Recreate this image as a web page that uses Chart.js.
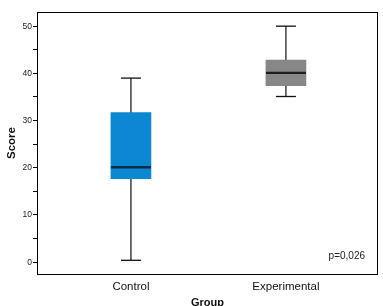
<!DOCTYPE html>
<html>
<head>
<meta charset="utf-8">
<script src="https://cdn.jsdelivr.net/npm/chart.js@4"></script>
<style>
  html, body { margin: 0; padding: 0; background: #fff; }
  #wrap { width: 383px; height: 306px; }
</style>
</head>
<body>
<div id="wrap"><canvas id="boxChart" width="383" height="306"></canvas></div>
<script>
// group labels and box stats
const groups = ['Control', 'Experimental'];
const mins = [0.4, 35.1];
const q1s = [17.7, 37.4];
const medians = [20.1, 40.1];
const q3s = [31.7, 42.8];
const maxs = [39, 50];
const boxColors = ['#0b88d1', '#878787'];
const medianColors = ['#0c2d47', '#1e1e1e'];
const yTicks = [0, 5, 10, 15, 20, 25, 30, 35, 40, 45, 50];
const pText = 'p=0,026';

// x positions for the groups (1, 2)
const xs = groups.map((g, i) => i + 1);

var whiskerData = [];
var capData = [];
xs.forEach((x, i) => {
    whiskerData.push({x: x, y: mins[i]}, {x: x, y: maxs[i]}, {x: x + 0.5, y: null});
    capData.push({x: x, y: mins[i]}, {x: x, y: maxs[i]});
});

// frame round the plot + p value
const framePlugin = {
    id: 'frame',
    afterDraw(chart) {
        const {ctx, chartArea} = chart;
        ctx.save();
        ctx.strokeStyle = '#000';
        ctx.lineWidth = 1;
        ctx.strokeRect(chartArea.left + 0.5, chartArea.top + 0.5,
            chartArea.right - chartArea.left - 1, chartArea.bottom - chartArea.top);
        ctx.fillStyle = '#222';
        ctx.font = '10px "Liberation Sans", Arial, sans-serif';
        ctx.textAlign = 'right';
        ctx.textBaseline = 'middle';
        ctx.fillText(pText, chartArea.right - 13, chartArea.bottom - 18);
        ctx.restore();
    }
};

var ctx = document.getElementById('boxChart').getContext('2d');
var boxChart = new Chart(ctx, {
    type: 'bar',
    data: {
        datasets: [
            {
                type: 'line',
                label: 'whisker',
                data: whiskerData,
                borderColor: '#111',
                borderWidth: 1.2,
                pointRadius: 0,
                spanGaps: false,
                order: 3
            },
            {
                type: 'bar',
                label: 'box',
                data: xs.map((x, i) => ({x: x, y: [q1s[i], q3s[i]]})),
                backgroundColor: boxColors,
                borderWidth: 0,
                barThickness: 40,
                grouped: false,
                order: 2
            },
            {
                type: 'line',
                label: 'caps',
                data: capData,
                showLine: false,
                pointStyle: 'line',
                pointRadius: 10,
                pointBorderWidth: 1.3,
                pointBorderColor: '#111',
                order: 1
            },
            {
                type: 'line',
                label: 'median',
                data: xs.map((x, i) => ({x: x, y: medians[i]})),
                showLine: false,
                pointStyle: 'line',
                pointRadius: 20,
                pointBorderWidth: 2.4,
                pointBorderColor: medianColors,
                order: 0
            }
        ]
    },
    options: {
        responsive: false,
        animation: false,
        layout: { autoPadding: false, padding: { top: 12, right: 5, left: 0, bottom: 0 } },
        plugins: {
            legend: { display: false },
            tooltip: { enabled: false }
        },
        scales: {
            x: {
                type: 'linear',
                offset: false,
                min: 0.394,
                max: 2.594,
                grid: { display: false, drawTicks: false },
                border: { display: false },
                afterBuildTicks: s => { s.ticks = xs.map(v => ({value: v})); },
                afterFit: s => { s.height = 32; },
                ticks: {
                    padding: 6,
                    color: '#111',
                    font: { family: '"Liberation Sans", Arial, sans-serif', size: 11.5 },
                    callback: v => groups[v - 1]
                },
                title: {
                    display: true,
                    text: 'Group',
                    color: '#111',
                    padding: { top: 0, bottom: -4 },
                    font: { family: '"Liberation Sans", Arial, sans-serif', size: 11, weight: 'bold' }
                }
            },
            y: {
                min: -2.5,
                max: 53,
                grid: { drawOnChartArea: false, tickLength: 4, tickColor: '#000', tickWidth: 1 },
                border: { display: false },
                afterBuildTicks: s => { s.ticks = yTicks.map(v => ({value: v})); },
                afterFit: s => { s.width = 37; },
                ticks: {
                    padding: 1,
                    color: '#222',
                    font: { family: '"Liberation Sans", Arial, sans-serif', size: 8.5 },
                    callback: v => (v % 10 === 0 ? v : '')
                },
                title: {
                    display: true,
                    text: 'Score',
                    color: '#111',
                    padding: { top: 5, bottom: 0 },
                    font: { family: '"Liberation Sans", Arial, sans-serif', size: 11.5, weight: 'bold' }
                }
            }
        }
    },
    plugins: [framePlugin]
});
</script>
</body>
</html>
